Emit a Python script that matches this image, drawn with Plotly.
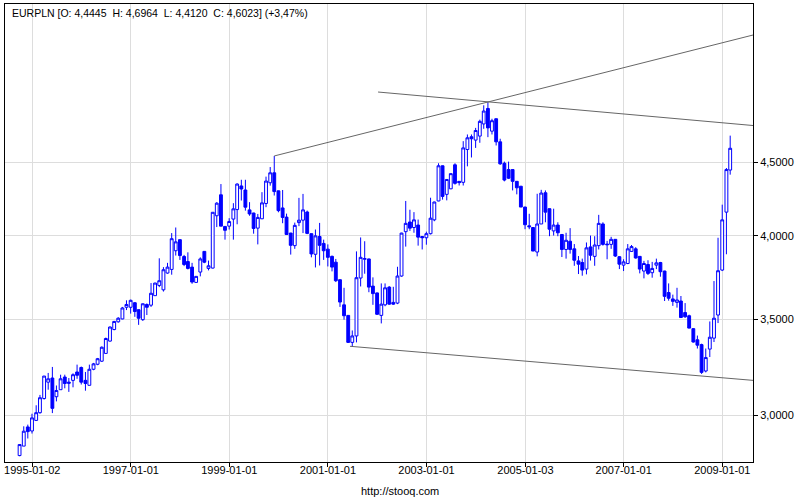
import math
import pandas as pd
import plotly.graph_objects as go

# ---- data (monthly EURPLN candles, month-end dates) ----
first_month_end = "1994-09-30"
n_candles = 174

opens = [2.814, 2.857, 2.946, 2.927, 2.977, 3.014, 3.083, 3.165, 3.186, 3.092,
         3.127, 3.191, 3.165, 3.174, 3.217, 3.240, 3.174, 3.149, 3.231, 3.257,
         3.273, 3.314, 3.380, 3.443, 3.486, 3.502, 3.568, 3.568, 3.594, 3.554,
         3.498, 3.584, 3.580, 3.635, 3.695, 3.669, 3.769, 3.791, 3.906, 3.976,
         3.870, 3.839, 3.805, 3.713, 3.775, 3.902, 3.797, 3.799, 4.131, 4.272,
         4.061, 4.063, 4.109, 4.172, 4.333, 4.305, 4.170, 4.149, 4.050, 4.111,
         4.213, 4.355, 4.425, 4.299, 4.183, 4.122, 4.018, 3.938, 4.086, 4.102,
         4.156, 4.014, 3.884, 3.996, 3.952, 3.916, 3.871, 3.835, 3.729, 3.582,
         3.522, 3.373, 3.408, 3.739, 3.853, 3.855, 3.691, 3.651, 3.522, 3.582,
         3.685, 3.596, 3.592, 3.751, 4.027, 4.090, 4.054, 4.070, 3.996, 3.988,
         4.014, 4.104, 4.230, 4.475, 4.275, 4.313, 4.482, 4.365, 4.358, 4.593,
         4.688, 4.663, 4.693, 4.785, 4.905, 4.730, 4.825, 4.650, 4.493, 4.448,
         4.448, 4.365, 4.331, 4.189, 4.065, 4.054, 3.898, 4.077, 4.286, 4.178,
         4.032, 4.070, 4.009, 3.914, 3.966, 3.918, 3.843, 3.833, 3.793, 3.930,
         3.871, 3.938, 4.077, 3.948, 3.946, 3.978, 3.869, 3.817, 3.827, 3.902,
         3.918, 3.871, 3.781, 3.821, 3.771, 3.817, 3.833, 3.781, 3.653, 3.616,
         3.596, 3.604, 3.538, 3.520, 3.448, 3.387, 3.361, 3.222, 3.337, 3.396,
         3.524, 3.787, 4.155, 4.4445]

highs = [2.865, 2.949, 2.957, 3.009, 3.050, 3.101, 3.196, 3.212, 3.243, 3.148,
         3.203, 3.203, 3.186, 3.210, 3.255, 3.245, 3.217, 3.255, 3.264, 3.290,
         3.351, 3.399, 3.460, 3.491, 3.512, 3.570, 3.608, 3.612, 3.598, 3.556,
         3.590, 3.590, 3.709, 3.711, 3.859, 3.805, 3.831, 4.018, 4.054, 3.978,
         3.880, 3.896, 3.831, 3.751, 3.865, 3.904, 3.845, 4.154, 4.222, 4.346,
         4.063, 4.115, 4.215, 4.351, 4.376, 4.376, 4.222, 4.151, 4.143, 4.290,
         4.398, 4.466, 4.546, 4.301, 4.305, 4.145, 4.020, 4.086, 4.251, 4.278,
         4.165, 4.016, 4.041, 4.084, 3.976, 3.946, 3.876, 3.855, 3.731, 3.681,
         3.524, 3.438, 3.902, 3.990, 3.966, 3.857, 3.743, 3.653, 3.707, 3.707,
         3.691, 3.687, 3.807, 4.020, 4.230, 4.171, 4.155, 4.106, 3.998, 4.027,
         4.252, 4.225, 4.493, 4.477, 4.380, 4.421, 4.493, 4.367, 4.655, 4.705,
         4.705, 4.755, 4.818, 4.930, 4.955, 4.825, 4.827, 4.673, 4.505, 4.505,
         4.450, 4.367, 4.333, 4.191, 4.144, 4.056, 4.279, 4.306, 4.302, 4.180,
         4.178, 4.088, 4.011, 4.020, 4.050, 3.948, 3.873, 3.857, 3.958, 4.002,
         3.998, 4.137, 4.088, 3.968, 3.994, 3.980, 3.873, 3.853, 3.948, 3.942,
         3.928, 3.873, 3.843, 3.847, 3.837, 3.857, 3.837, 3.783, 3.707, 3.641,
         3.681, 3.633, 3.592, 3.526, 3.450, 3.410, 3.366, 3.340, 3.488, 3.721,
         3.988, 4.205, 4.459, 4.6964]

lows = [2.811, 2.857, 2.892, 2.915, 2.974, 3.009, 3.078, 3.127, 3.012, 3.069,
        3.127, 3.134, 3.116, 3.139, 3.182, 3.153, 3.122, 3.149, 3.226, 3.252,
        3.269, 3.314, 3.377, 3.439, 3.481, 3.500, 3.552, 3.532, 3.514, 3.469,
        3.491, 3.524, 3.570, 3.635, 3.685, 3.659, 3.765, 3.759, 3.876, 3.849,
        3.811, 3.791, 3.705, 3.711, 3.749, 3.829, 3.785, 3.797, 4.057, 4.063,
        3.976, 4.041, 3.976, 4.075, 4.233, 4.165, 4.131, 4.014, 3.946, 4.109,
        4.188, 4.335, 4.267, 4.154, 4.082, 4.007, 3.882, 3.918, 4.063, 4.018,
        4.011, 3.865, 3.803, 3.815, 3.849, 3.809, 3.779, 3.715, 3.570, 3.498,
        3.370, 3.349, 3.373, 3.689, 3.765, 3.655, 3.582, 3.526, 3.477, 3.574,
        3.582, 3.582, 3.586, 3.747, 3.932, 4.032, 4.020, 3.938, 3.914, 3.944,
        4.009, 4.095, 4.228, 4.239, 4.234, 4.311, 4.342, 4.336, 4.336, 4.471,
        4.535, 4.605, 4.643, 4.748, 4.685, 4.705, 4.623, 4.482, 4.365, 4.381,
        4.302, 4.275, 4.189, 4.043, 4.043, 3.904, 3.871, 4.077, 4.088, 3.998,
        4.002, 3.998, 3.867, 3.857, 3.888, 3.813, 3.763, 3.753, 3.761, 3.845,
        3.813, 3.914, 3.938, 3.853, 3.918, 3.867, 3.793, 3.781, 3.823, 3.898,
        3.857, 3.767, 3.737, 3.757, 3.741, 3.793, 3.747, 3.604, 3.606, 3.576,
        3.566, 3.510, 3.508, 3.450, 3.372, 3.340, 3.207, 3.215, 3.295, 3.375,
        3.479, 3.781, 3.884, 4.4120]

closes = [2.864, 2.926, 2.924, 2.989, 3.014, 3.087, 3.196, 3.182, 3.035, 3.123,
          3.182, 3.158, 3.160, 3.203, 3.200, 3.165, 3.158, 3.231, 3.259, 3.286,
          3.347, 3.394, 3.457, 3.488, 3.506, 3.564, 3.584, 3.608, 3.544, 3.506,
          3.588, 3.568, 3.649, 3.709, 3.723, 3.789, 3.805, 3.982, 3.962, 3.876,
          3.821, 3.797, 3.715, 3.749, 3.855, 3.835, 3.813, 4.154, 4.215, 4.063,
          4.036, 4.093, 4.177, 4.346, 4.312, 4.188, 4.143, 4.048, 4.120, 4.217,
          4.367, 4.425, 4.294, 4.165, 4.120, 4.009, 3.940, 4.068, 4.102, 4.170,
          4.016, 3.886, 4.000, 3.940, 3.906, 3.865, 3.805, 3.723, 3.598, 3.520,
          3.373, 3.408, 3.741, 3.865, 3.857, 3.685, 3.647, 3.528, 3.586, 3.681,
          3.586, 3.586, 3.751, 4.018, 4.081, 4.050, 4.104, 3.992, 3.988, 4.014,
          4.115, 4.223, 4.475, 4.261, 4.378, 4.419, 4.351, 4.356, 4.605, 4.680,
          4.673, 4.735, 4.805, 4.885, 4.755, 4.810, 4.650, 4.489, 4.374, 4.387,
          4.365, 4.320, 4.189, 4.072, 4.059, 3.904, 4.077, 4.284, 4.155, 4.043,
          4.070, 4.020, 3.914, 3.972, 3.914, 3.847, 3.823, 3.787, 3.924, 3.878,
          3.942, 4.081, 3.946, 3.944, 3.978, 3.873, 3.823, 3.837, 3.918, 3.932,
          3.861, 3.793, 3.827, 3.767, 3.797, 3.831, 3.777, 3.631, 3.620, 3.602,
          3.610, 3.510, 3.514, 3.451, 3.375, 3.358, 3.215, 3.292, 3.401, 3.506,
          3.783, 4.104, 4.448, 4.6023]

# user-drawn trend lines (date, price)
trend_rise_dates = ["1999-11-30", "2009-08-16"]
trend_rise_vals = [4.546, 5.517]
trend_fall_dates = ["2002-01-07", "2009-08-16"]
trend_fall_vals = [5.036, 4.773]
trend_low_dates = ["2001-06-13", "2009-08-16"]
trend_low_vals = [3.352, 3.174]

# axis ticks
x_tick_labels = ["1995-01-02", "1997-01-01", "1999-01-01", "2001-01-01",
                 "2003-01-01", "2005-01-03", "2007-01-01", "2009-01-01"]
y_tick_vals = [3.0, 3.5, 4.0, 4.5]

# ---- figure ----
dates = pd.date_range(first_month_end, periods=n_candles, freq="ME")

BLUE = "#0000FF"
fig = go.Figure()
fig.add_trace(go.Candlestick(
    x=dates, open=opens, high=highs, low=lows, close=closes,
    increasing=dict(line=dict(color=BLUE, width=1), fillcolor="white"),
    decreasing=dict(line=dict(color=BLUE, width=1), fillcolor=BLUE),
    whiskerwidth=0, hoverinfo="skip", showlegend=False,
))

for dts, vals in [(trend_rise_dates, trend_rise_vals),
                  (trend_fall_dates, trend_fall_vals),
                  (trend_low_dates, trend_low_vals)]:
    fig.add_trace(go.Scatter(x=dts, y=vals, mode="lines",
                             line=dict(color="#666666", width=1),
                             hoverinfo="skip", showlegend=False))

def fmt(v, nd=4):
    return f"{v:.{nd}f}".replace(".", ",")

pct = (closes[-1] / closes[-2] - 1) * 100
sp = " \u00a0"
header = (f"EURPLN [O: {fmt(opens[-1])}{sp}H: {fmt(highs[-1])}{sp}"
          f"L: {fmt(lows[-1])}{sp}C: {fmt(closes[-1])}] (+{fmt(pct, 2)}%)")

FONT = "Liberation Sans, Arial, sans-serif"

fig.update_layout(
    width=800, height=500,
    margin=dict(l=5, r=47, t=4, b=38),
    paper_bgcolor="white", plot_bgcolor="white",
    font=dict(family=FONT, size=11, color="black"),
    separators=", ",
    boxgap=0.25, boxgroupgap=0.0,
    xaxis=dict(
        type="date",
        range=["1994-06-14", "2009-08-16"],
        tickvals=x_tick_labels, ticktext=x_tick_labels,
        showgrid=True, gridcolor="#DDDDDD", gridwidth=1,
        showline=True, linecolor="black", linewidth=1, mirror=True,
        ticks="outside", ticklen=4, tickcolor="black",
        ticklabelstandoff=-6,
        rangeslider=dict(visible=False), zeroline=False,
        tickfont=dict(family=FONT, size=11),
    ),
    yaxis=dict(
        type="log", side="right",
        range=[math.log10(2.7852), math.log10(5.798)],
        tickvals=y_tick_vals, tickformat=".4f",
        showgrid=True, gridcolor="#DDDDDD", gridwidth=1,
        showline=True, linecolor="black", linewidth=1, mirror=True,
        ticks="outside", ticklen=4, tickcolor="black", zeroline=False,
        tickfont=dict(family=FONT, size=11),
    ),
    shapes=[dict(type="rect", xref="paper", yref="paper",
                 x0=0, x1=0.428, y0=0.963, y1=1.0,
                 fillcolor="white", line=dict(width=0), layer="between")],
    annotations=[
        dict(text=header, xref="paper", yref="paper", x=0.0067, y=0.9803,
             xanchor="left", yanchor="middle", showarrow=False,
             font=dict(family=FONT, size=10.5, color="black")),
        dict(text="http://stooq.com", xref="paper", yref="paper", x=0.528, y=-0.0633,
             xanchor="center", yanchor="middle", showarrow=False,
             font=dict(family=FONT, size=11, color="black")),
    ],
)

fig.write_html("out.html",
               config={"displayModeBar": False},
               post_script="document.body.style.margin='0';document.body.style.padding='0';")
